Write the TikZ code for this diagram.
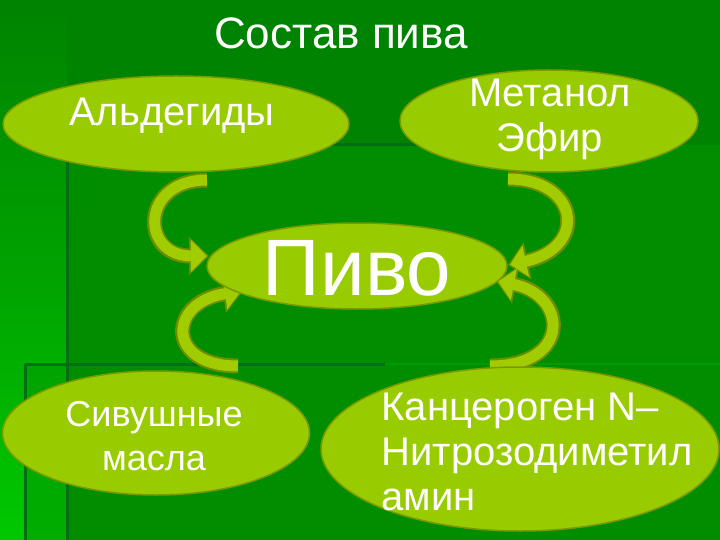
\documentclass[tikz,border=0pt]{standalone}
\usepackage{fontspec}
\setmainfont{Liberation Sans}
\usetikzlibrary{shapes.geometric,arrows.meta}
\definecolor{bgA}{HTML}{008300}
\definecolor{bgB}{HTML}{008D00}
\definecolor{bgBright}{HTML}{00C800}
\definecolor{bgMid}{HTML}{00A400}
\definecolor{lineDk}{HTML}{006E14}
\definecolor{ellFill}{HTML}{99CC00}
\definecolor{ellLine}{HTML}{7A9A00}
\definecolor{arrDk}{HTML}{6E8C00}
\definecolor{arrFill}{HTML}{A0CC00}
\tikzset{
  ell/.style={ellipse, draw=ellLine, line width=1.5, fill=ellFill, inner sep=0},
  txt/.style={text=white, align=center, font=\fontsize{40}{45}\selectfont},
  arrout/.style={draw=arrDk, line width=15, -{Triangle[length=20,width=37]}},
  arrin/.style={draw=arrFill, line width=11, shorten >=2.2, -{Triangle[length=16,width=31]}},
  bgline/.style={draw=lineDk, line width=3}
}
\begin{document}
\begin{tikzpicture}[x=1pt,y=-1pt]
\useasboundingbox (0,0) rectangle (720,540);
% background
\fill[bgA] (0,0) rectangle (720,540);
\fill[bgB] (67,145) rectangle (720,540);
\shade[top color=bgA, bottom color=bgBright, middle color=bgA!55!bgBright] (0,0) rectangle (67,540);
\shade[top color=bgMid, bottom color=bgMid!75!bgBright] (25,364) rectangle (67,540);
\draw[bgB!80!bgBright, line width=2] (385,364) -- (720,364);
\draw[bgline] (67,145) -- (67,540);
\draw[bgline] (67,145) -- (560,145);
\draw[bgline] (25,364) -- (385,364);
\draw[bgline] (25,364) -- (25,540);
% title
\node[text=white, font=\fontsize{44}{50}\selectfont] (title) at (341,33) {Состав пива};
% arrows
\coordinate (tlA) at (207,180);
\coordinate (tlB) at (209,256);
\coordinate (trA) at (508,179);
\coordinate (trB) at (508,265);
\coordinate (blA) at (238,366);
\coordinate (blB) at (243,291);
\coordinate (brA) at (490,366);
\coordinate (brB) at (496,281);
\foreach \s in {arrout,arrin}{
  \draw[\s] (tlA) .. controls (140,180) and (140,256) .. (tlB);
  \draw[\s] (trA) .. controls (580,179) and (588,248) .. (trB);
  \draw[\s] (blA) .. controls (165,366) and (168,302) .. (blB);
  \draw[\s] (brA) .. controls (572,366) and (568,295) .. (brB);
}
% ellipses
\node[ell, minimum width=346, minimum height=96] (ald) at (176,124) {};
\node[txt] (aldT) at (172,116) {Альдегиды};
\node[ell, minimum width=298, minimum height=102] (met) at (549,121) {};
\node[txt] (metT) at (550,119) {Метанол\\Эфир};
\node[ell, minimum width=300, minimum height=86] (pivo) at (357,266) {};
\node[text=white, font=\fontsize{80}{82}\selectfont] (pivoT) at (357,268) {Пиво};
\node[ell, minimum width=307, minimum height=124] (siv) at (156,433) {};
\node[txt, font=\fontsize{36}{44}\selectfont] (sivT) at (154,436) {Сивушные\\масла};
\node[ell, minimum width=398, minimum height=164] (kanc) at (520,449) {};
\node[txt, align=left, anchor=west] (kancT) at (378,452) {Канцероген N–\\Нитрозодиметил\\амин};
\end{tikzpicture}
\end{document}
